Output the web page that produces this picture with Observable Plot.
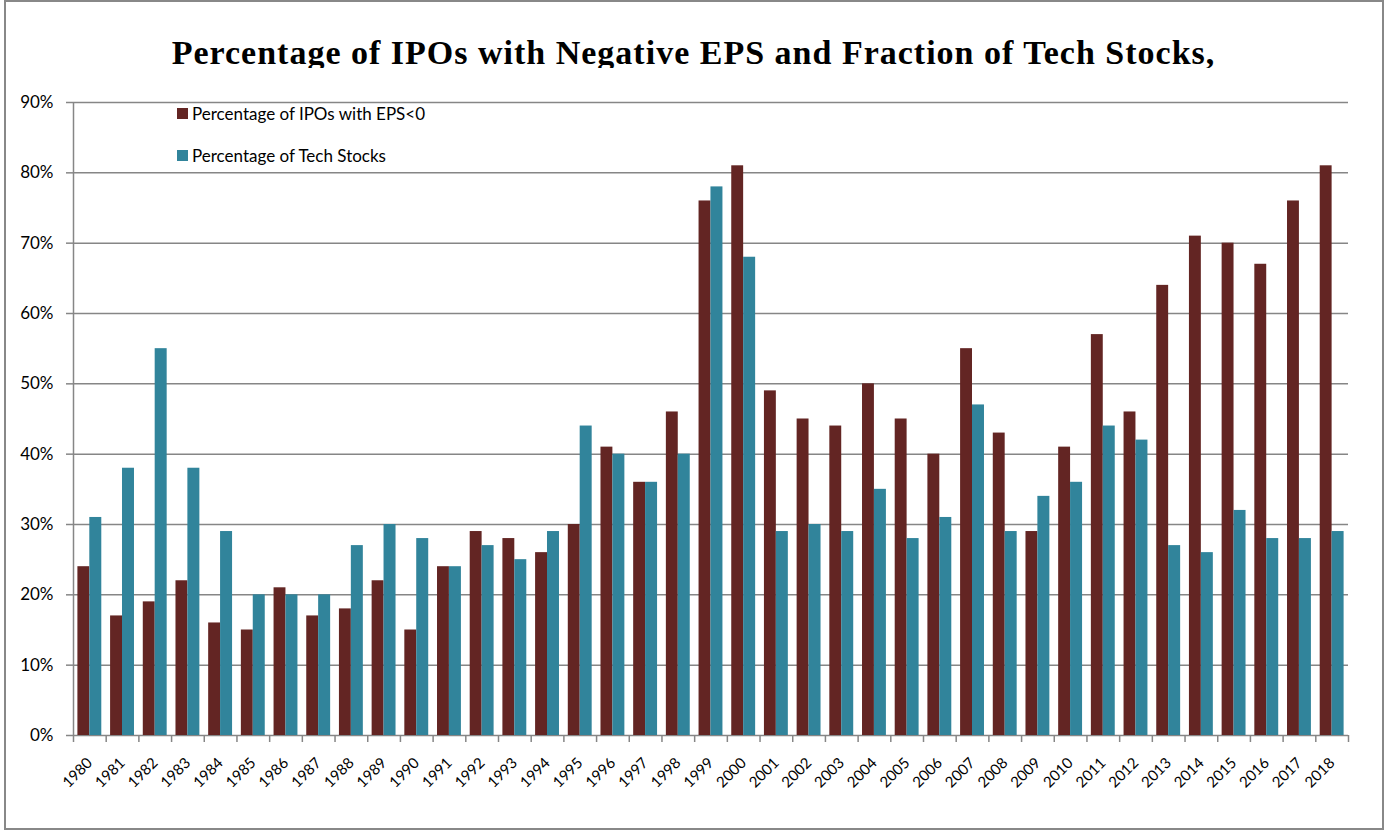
<!DOCTYPE html>
<html>
<head>
<meta charset="utf-8">
<script src="https://cdn.jsdelivr.net/npm/d3@7"></script>
<script src="https://cdn.jsdelivr.net/npm/@observablehq/plot@0.6"></script>
<style>
  html, body { margin: 0; padding: 0; background: #fff; }
  #page { position: relative; width: 1394px; height: 834px; overflow: hidden; }
  #title { box-sizing: border-box; height: 68px; padding-top: 35.5px; padding-right: 7px; overflow: hidden;
    font-family: "Liberation Serif", "Times New Roman", serif; font-weight: bold;
    font-size: 34px; line-height: 34px; letter-spacing: 1px; text-align: center; color: #000; white-space: nowrap; }
  #border { position: absolute; left: 4px; top: 0; width: 1380px; height: 830px;
    border: 2px solid #888; box-sizing: border-box; pointer-events: none; }
  .leg { position: absolute; font-family: Lato, "Open Sans", sans-serif; font-size: 17px; color: #000; white-space: nowrap; line-height: 17px; }
  .leg span { display: inline-block; width: 11px; height: 11px; margin-right: 4px; vertical-align: 1px; }
</style>
</head>
<body>
<div id="page">
  <div id="title">Percentage of IPOs with Negative EPS and Fraction of Tech Stocks,</div>
  <div id="chart"></div>
  <div id="border"></div>
</div>
<script>
const years = ["1980","1981","1982","1983","1984","1985","1986","1987","1988","1989","1990","1991","1992","1993","1994","1995","1996","1997","1998","1999","2000","2001","2002","2003","2004","2005","2006","2007","2008","2009","2010","2011","2012","2013","2014","2015","2016","2017","2018"];
const negEPS = [24,17,19,22,16,15,21,17,18,22,15,24,29,28,26,30,41,36,46,76,81,49,45,44,50,45,40,55,43,29,41,57,46,64,71,70,67,76,81];
const techPct = [31,38,55,38,29,20,20,20,27,30,28,24,27,25,29,44,40,36,40,78,68,29,30,29,35,28,31,47,29,34,36,44,42,27,26,32,28,28,29];
const seriesNames = ["Percentage of IPOs with EPS<0", "Percentage of Tech Stocks"];
const seriesColors = ["#632523", "#31849B"];
const yTicks = [0, 0.1, 0.2, 0.3, 0.4, 0.5, 0.6, 0.7, 0.8, 0.9];

const W = 1394, H = 766, ML = 73, MR = 46, MT = 34, MB = 99;
const step = (W - ML - MR) / years.length;
const grid = "#868686";
const font = "Lato, 'Open Sans', sans-serif";

const redData = years.map((y, i) => ({year: y, v: negEPS[i] / 100}));
const tealData = years.map((y, i) => ({year: y, v: techPct[i] / 100}));

const chart = Plot.plot({
  width: W, height: H,
  marginLeft: ML, marginRight: MR, marginTop: MT, marginBottom: MB,
  style: {fontFamily: font, fontSize: "16px", color: "#000", background: "#fff"},
  x: {domain: years, padding: 0, round: false, label: null},
  y: {domain: [0, 0.9], label: null},
  marks: [
    Plot.ruleY(yTicks, {stroke: grid, strokeWidth: 1.5}),
    Plot.barY(redData, {x: "year", y: "v", fill: seriesColors[0], insetLeft: 4.4, insetRight: step - 16.3}),
    Plot.barY(tealData, {x: "year", y: "v", fill: seriesColors[1], insetLeft: 16.3, insetRight: 4.4}),
    Plot.ruleX([years[0]], {y1: 0, y2: 0.9, dx: -step / 2, stroke: grid, strokeWidth: 1.5}),
    Plot.axisY({ticks: yTicks, tickFormat: d3.format(".0%"), tickSize: 7, tickPadding: 13, stroke: grid, strokeWidth: 1.5, fontSize: 17}),
    Plot.axisX({tickSize: 7, tickFormat: () => "", dx: -step / 2, stroke: grid, strokeWidth: 1.5}),
    Plot.axisX({ticks: [years[years.length - 1]], tickSize: 7, tickFormat: () => "", dx: step / 2, stroke: grid, strokeWidth: 1.5}),
    Plot.axisX({tickSize: 0, tickRotate: -45, tickPadding: 25, fontSize: 15, textAnchor: "end"})
  ]
});
document.getElementById("chart").appendChild(chart);

const page = document.getElementById("page");
const legTop = [105, 146.5];
seriesNames.forEach((name, i) => {
  const d = document.createElement("div");
  d.className = "leg";
  d.style.left = "177px";
  d.style.top = legTop[i] + "px";
  d.innerHTML = `<span style="background:${seriesColors[i]}"></span>`;
  d.appendChild(document.createTextNode(name));
  page.appendChild(d);
});
</script>
</body>
</html>
